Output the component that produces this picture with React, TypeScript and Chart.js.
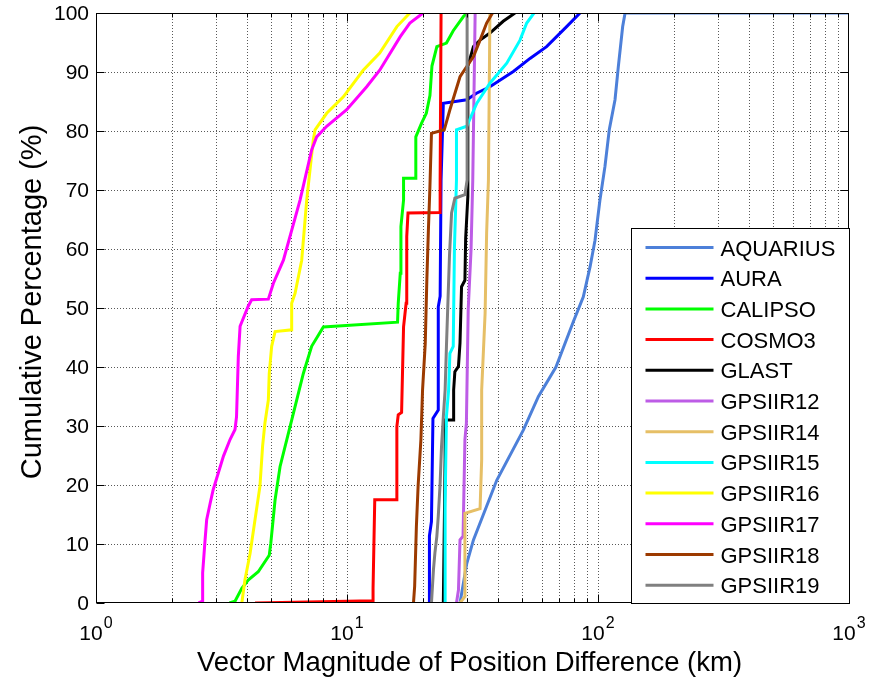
import React, { useEffect, useRef } from "react";
import { Chart, registerables } from "chart.js";

Chart.register(...registerables);

// ---- data ----
const seriesNames = [
  "AQUARIUS", "AURA", "CALIPSO", "COSMO3", "GLAST", "GPSIIR12",
  "GPSIIR14", "GPSIIR15", "GPSIIR16", "GPSIIR17", "GPSIIR18", "GPSIIR19",
];
const seriesColors = [
  "#4D80D9", "#0000FF", "#00FF00", "#FF0000", "#000000", "#BD5CE6",
  "#E6BF66", "#00FFFF", "#FFFF00", "#FF00FF", "#9C3A00", "#808080",
];

const aquariusX = [28.2, 30.0, 31.9, 39.5, 50.4, 57.9, 68.0, 79.8, 87.4, 93.0, 97.3, 101.8, 106.6, 110.9, 116.9, 120.5, 125.4, 128.2, 1000];
const aquariusY = [0, 6.7, 10.7, 20.8, 29.3, 35, 40, 47.7, 51.9, 57, 61.5, 68.3, 74, 80.2, 85.3, 90.9, 97.7, 100, 100];

const auraX = [21.3, 21.3, 21.7, 22.0, 23.1, 23.1, 23.5, 23.7, 24.2, 30.0, 32.8, 37.1, 46.0, 53.6, 62.4, 75.0, 84.8];
const auraY = [0, 11.4, 13.8, 31.3, 32.7, 50.2, 52, 71.7, 84.7, 85.3, 86.4, 87.5, 90.1, 92.3, 94.3, 97.7, 100];

const calipsoX = [3.40, 3.58, 3.81, 4.04, 4.43, 4.90, 4.97, 5.17, 5.41, 5.75, 6.21, 6.70, 7.23, 8.05, 15.9, 16.0, 16.3, 16.4, 16.8, 16.8, 18.8, 18.8, 19.8, 20.7, 21.4, 21.8, 22.8, 24.9, 26.5, 29.1, 30.1];
const calipsoY = [0, 0.3, 2.5, 3.9, 5.3, 8.1, 10.1, 17.5, 23.1, 27.6, 33.3, 38.9, 43.5, 46.8, 47.6, 50.8, 55.9, 63.8, 68.3, 72, 72, 79, 81.3, 83, 86, 91, 94.3, 94.9, 97, 99.4, 100];

const cosmo3X = [4.3, 12.7, 12.7, 12.9, 15.8, 15.8, 16.0, 16.5, 16.8, 17.2, 17.3, 17.5, 23.5, 23.5, 23.7];
const cosmo3Y = [0, 0.4, 2.5, 17.5, 17.5, 29.9, 31.9, 32.3, 46.8, 50.8, 62.1, 66.1, 66.2, 71.7, 100];

const glastX = [24.2, 24.6, 24.6, 26.5, 26.6, 26.9, 27.8, 28.2, 28.6, 29.5, 29.7, 30.3, 30.3, 31.9, 33.9, 37.1, 41.9, 46.7];
const glastY = [0, 24.3, 31.0, 31.0, 36.1, 39.2, 40.1, 44.1, 53.6, 54.7, 61.8, 68.9, 91.0, 94.3, 95.4, 96.6, 98.6, 100];

const gpsiir12X = [27.3, 27.8, 28.2, 29.0, 29.5, 29.9, 30.4, 31.2, 31.7, 32.4];
const gpsiir12Y = [0, 2.2, 10.7, 11.3, 27.7, 30.5, 49.7, 59.8, 71.7, 100];

const gpsiir14X = [28.2, 29.5, 29.5, 33.9, 34.4, 34.4, 35.5, 36.0, 36.6, 37.1];
const gpsiir14Y = [0, 1.1, 15.2, 16.0, 24.3, 36.1, 49.1, 62.7, 71.7, 100];

const gpsiir15X = [24.6, 24.6, 24.9, 25.4, 25.7, 26.5, 26.8, 27.3, 27.3, 30.0, 32.9, 37.1, 43.3, 48.9, 52.0, 55.6];
const gpsiir15Y = [0, 16.9, 31.6, 36.1, 42.3, 43.5, 60.4, 71.7, 80.2, 80.8, 84.7, 88.1, 91.5, 95.4, 98.3, 100];

const gpsiir16X = [3.81, 3.92, 4.11, 4.30, 4.50, 4.61, 4.71, 4.86, 4.90, 5.01, 5.17, 6.02, 6.02, 6.21, 6.60, 6.91, 7.34, 7.46, 8.30, 9.67, 11.6, 13.5, 15.8, 17.8];
const gpsiir16Y = [0, 3.9, 8.4, 14.1, 19.8, 26.6, 30.5, 34.4, 38.9, 43.5, 46.0, 46.3, 50.8, 52.5, 58.1, 68.3, 78.5, 80.2, 83.0, 85.8, 90.3, 93.2, 97.7, 100];

const gpsiir17X = [2.56, 2.66, 2.66, 2.72, 2.76, 2.85, 2.93, 3.22, 3.42, 3.58, 3.63, 3.69, 3.75, 4.04, 4.17, 4.86, 5.09, 5.58, 6.50, 7.23, 7.57, 8.30, 9.97, 11.98, 13.5, 16.3, 17.8, 20.1];
const gpsiir17Y = [0, 0.3, 5.1, 10.7, 14.1, 16.9, 19.2, 24.9, 27.7, 29.4, 31.6, 41.8, 46.9, 50.3, 51.4, 51.5, 54.2, 58.1, 68.3, 76.8, 79.0, 80.8, 83.6, 87.5, 90.3, 96.0, 98.3, 100];

const gpsiir18X = [18.4, 18.6, 18.9, 19.2, 19.7, 20.0, 20.5, 20.8, 21.1, 21.4, 21.7, 24.4, 25.7, 28.2, 31.9, 33.9, 36.0, 38.0];
const gpsiir18Y = [0, 2.8, 13, 19.8, 27.7, 36.1, 44, 54.7, 63.2, 70.6, 79.6, 80.2, 83.6, 89.2, 92.6, 95.4, 98.3, 100];

const gpsiir19X = [21.7, 22.1, 22.4, 22.8, 23.1, 23.5, 23.8, 24.2, 24.6, 24.9, 25.6, 26.1, 26.9, 29.5, 30.1, 30.1];
const gpsiir19Y = [0, 5.6, 8.5, 11.3, 14.7, 20.3, 26.5, 31.6, 36.1, 43.5, 58.8, 66.1, 68.6, 69.2, 71.7, 100];

const seriesX = [aquariusX, auraX, calipsoX, cosmo3X, glastX, gpsiir12X, gpsiir14X, gpsiir15X, gpsiir16X, gpsiir17X, gpsiir18X, gpsiir19X];
const seriesY = [aquariusY, auraY, calipsoY, cosmo3Y, glastY, gpsiir12Y, gpsiir14Y, gpsiir15Y, gpsiir16Y, gpsiir17Y, gpsiir18Y, gpsiir19Y];

const xTickValues = [1, 10, 100, 1000];
const xTickExponents = ["0", "1", "2", "3"];
const yTickValues = [0, 10, 20, 30, 40, 50, 60, 70, 80, 90, 100];
const xTitle = "Vector Magnitude of Position Difference (km)";
const yTitle = "Cumulative Percentage (%)";

const FONT = "'Liberation Sans', Arial, sans-serif";

const decorPlugin = {
  id: "decor",
  beforeDatasetsDraw(chart: any) {
    const { ctx, chartArea: ca, scales } = chart;
    const xs = scales.x, ys = scales.y;
    ctx.save();
    ctx.strokeStyle = "rgba(0,0,0,0.65)";
    ctx.lineWidth = 1;
    ctx.setLineDash([1, 2]);
    for (let k = 0; k < 3; k++) {
      for (let m = 1; m <= 9; m++) {
        const v = m * Math.pow(10, k);
        if (v <= 1) continue;
        const px = Math.round(xs.getPixelForValue(v)) + 0.5;
        ctx.beginPath();
        ctx.moveTo(px, ca.top);
        ctx.lineTo(px, ca.bottom);
        ctx.stroke();
      }
    }
    yTickValues.forEach((v) => {
      if (v === 0 || v === 100) return;
      const py = Math.round(ys.getPixelForValue(v)) + 0.5;
      ctx.beginPath();
      ctx.moveTo(ca.left, py);
      ctx.lineTo(ca.right, py);
      ctx.stroke();
    });
    ctx.restore();
  },
  afterDatasetsDraw(chart: any) {
    const { ctx, chartArea: ca, scales } = chart;
    const xs = scales.x, ys = scales.y;
    ctx.save();
    ctx.setLineDash([]);
    ctx.strokeStyle = "#000";
    ctx.lineWidth = 1;
    // box
    const L = Math.round(ca.left) + 0.5, R = Math.round(ca.right) - 0.5;
    const T = Math.round(ca.top) + 0.5, B = Math.round(ca.bottom) - 0.5;
    ctx.strokeRect(L, T, R - L, B - T);
    // x ticks
    for (let k = 0; k < 3; k++) {
      for (let m = 1; m <= 9; m++) {
        const v = m * Math.pow(10, k);
        const px = Math.round(xs.getPixelForValue(v)) + 0.5;
        const len = m === 1 ? 8 : 4;
        ctx.beginPath();
        ctx.moveTo(px, B); ctx.lineTo(px, B - len);
        ctx.moveTo(px, T); ctx.lineTo(px, T + len);
        ctx.stroke();
      }
    }
    // y ticks
    yTickValues.forEach((v) => {
      const py = Math.round(ys.getPixelForValue(v)) + 0.5;
      ctx.beginPath();
      ctx.moveTo(L, py); ctx.lineTo(L + 8, py);
      ctx.moveTo(R, py); ctx.lineTo(R - 8, py);
      ctx.stroke();
    });
    // y tick labels
    ctx.fillStyle = "#000";
    ctx.font = `21px ${FONT}`;
    ctx.textAlign = "right";
    ctx.textBaseline = "middle";
    yTickValues.forEach((v) => {
      const py = ys.getPixelForValue(v);
      ctx.fillText(String(v), ca.left - 7, py + 1);
    });
    // x tick labels (10^n)
    ctx.textBaseline = "alphabetic";
    ctx.textAlign = "left";
    xTickValues.forEach((v, i) => {
      const px = xs.getPixelForValue(v);
      ctx.font = `21px ${FONT}`;
      const w1 = ctx.measureText("10").width;
      ctx.font = `16px ${FONT}`;
      const w2 = ctx.measureText(xTickExponents[i]).width;
      const x0 = px - (w1 + w2 + 1) / 2;
      ctx.font = `21px ${FONT}`;
      ctx.fillText("10", x0, ca.bottom + 37);
      ctx.font = `16px ${FONT}`;
      ctx.fillText(xTickExponents[i], x0 + w1 + 1, ca.bottom + 25);
    });
    // axis titles
    ctx.font = `27.5px ${FONT}`;
    ctx.textAlign = "center";
    ctx.fillText(xTitle, (ca.left + ca.right) / 2 - 3, ca.bottom + 68);
    ctx.save();
    ctx.font = `29px ${FONT}`;
    ctx.translate(41, (ca.top + ca.bottom) / 2 - 6);
    ctx.rotate(-Math.PI / 2);
    ctx.fillText(yTitle, 0, 0);
    ctx.restore();
    // legend
    const lw = 218, lh = 375;
    const lx = Math.round(ca.right - lw) + 0.5, ly = Math.round(ca.bottom - lh) + 0.5;
    ctx.fillStyle = "#fff";
    ctx.fillRect(lx, ly, lw, lh);
    ctx.strokeStyle = "#000";
    ctx.lineWidth = 1;
    ctx.strokeRect(lx, ly, lw, lh);
    ctx.font = `22px ${FONT}`;
    ctx.textAlign = "left";
    ctx.textBaseline = "middle";
    chart.data.datasets.forEach((ds: any, i: number) => {
      const cy = ly + 19 + i * 30.7;
      ctx.strokeStyle = ds.borderColor;
      ctx.lineWidth = 3;
      ctx.beginPath();
      ctx.moveTo(lx + 14, cy);
      ctx.lineTo(lx + 82, cy);
      ctx.stroke();
      ctx.fillStyle = "#000";
      ctx.fillText(ds.label, lx + 89, cy + 2);
    });
    ctx.restore();
  },
};

export default function App() {
  const ref = useRef<HTMLCanvasElement | null>(null);
  useEffect(() => {
    if (!ref.current) return;
    const datasets = seriesNames.map((name, i) => ({
      label: name,
      data: seriesX[i].map((x, j) => ({ x, y: seriesY[i][j] })),
      borderColor: seriesColors[i],
      backgroundColor: seriesColors[i],
      borderWidth: 3,
      pointRadius: 0,
      tension: 0,
      fill: false,
      order: seriesNames.length - i,
    }));
    const chart = new Chart(ref.current, {
      type: "line",
      data: { datasets },
      options: {
        animation: false,
        responsive: false,
        devicePixelRatio: 1,
        layout: { padding: { left: 96, right: 21, top: 13, bottom: 77 } },
        plugins: { legend: { display: false }, title: { display: false }, tooltip: { enabled: false } },
        scales: {
          x: { type: "logarithmic", min: 1, max: 1000, display: false },
          y: { type: "linear", min: 0, max: 100, display: false },
        },
      },
      plugins: [decorPlugin],
    } as any);
    return () => chart.destroy();
  }, []);
  return (
    <div style={{ position: "fixed", left: 0, top: 0, width: 870, height: 680, background: "#fff" }}>
      <canvas ref={ref} width={870} height={680} style={{ display: "block" }} />
    </div>
  );
}
